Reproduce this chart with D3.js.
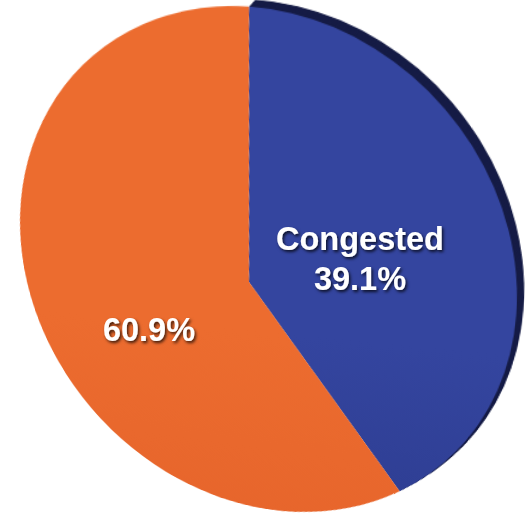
<!DOCTYPE html>
<html><head><meta charset="utf-8">
<script src="https://cdn.jsdelivr.net/npm/d3@7"></script>
<style>
html,body{margin:0;padding:0;background:#fff;overflow:hidden;}
#stage{position:relative;width:530px;height:516px;overflow:hidden;}
#pieWrap{position:absolute;left:0;top:0;width:600px;height:600px;transform-origin:0 0;}
#labels{position:absolute;left:0;top:0;}
</style></head><body>
<div id="stage"><div id="pieWrap"></div><svg id="labels" width="530" height="516"></svg></div>
<script>
// ---- data ----
const categories = ["Congested", "Not congested"];
const shares = [39.1, 60.9];
const showName = [true, false];

// ---- layout / style ----
const R0 = 250, C0 = 300;   // flat pie in local coordinates
const ell = {cx: 268.5, cy: 259, a: 268.6, b: 231.5, angle: 48.5};  // screen outline of the tilted disk
const vertex = {x: 249, y: 282};  // where the pie centre appears on screen

function mul(A, B) {
  const r = [[0,0,0],[0,0,0],[0,0,0]];
  for (let i = 0; i < 3; i++) for (let j = 0; j < 3; j++)
    for (let k = 0; k < 3; k++) r[i][j] += A[i][k] * B[k][j];
  return r;
}
function inv3(m) {
  const [a,b,c] = m[0], [d,e,f] = m[1], [g,h,i] = m[2];
  const A = e*i - f*h, B = -(d*i - f*g), C = d*h - e*g;
  const det = a*A + b*B + c*C;
  return [[A/det, -(b*i - c*h)/det, (b*f - c*e)/det],
          [B/det, (a*i - c*g)/det, -(a*f - c*d)/det],
          [C/det, -(a*h - b*g)/det, (a*e - b*d)/det]];
}
function apply(m, x, y) {
  const X = m[0][0]*x + m[0][1]*y + m[0][2], Y = m[1][0]*x + m[1][1]*y + m[1][2], W = m[2][0]*x + m[2][1]*y + m[2][2];
  return [X / W, Y / W];
}
// ellipse linear part (symmetric)
const th = ell.angle * Math.PI / 180, ct = Math.cos(th), st = Math.sin(th);
const Sl = [[ell.a*ct*ct + ell.b*st*st, (ell.a - ell.b)*ct*st],
            [(ell.a - ell.b)*ct*st, ell.a*st*st + ell.b*ct*ct]];
const S = [[Sl[0][0], Sl[0][1], ell.cx], [Sl[1][0], Sl[1][1], ell.cy], [0, 0, 1]];
const Sinv = inv3(S);
const [wx, wy] = apply(Sinv, vertex.x, vertex.y);
const w2 = wx*wx + wy*wy, g = 1 / Math.sqrt(1 - w2), wl = Math.sqrt(w2);
const ux = wx / wl, uy = wy / wl;
const N = [[1/R0, 0, -C0/R0], [0, 1/R0, -C0/R0], [0, 0, 1]];
const L = [[1 + (g-1)*ux*ux, (g-1)*ux*uy, g*wx],
           [(g-1)*ux*uy, 1 + (g-1)*uy*uy, g*wy],
           [g*wx, g*wy, g]];
const H = mul(S, mul(L, N));
const Hinv = inv3(H);
d3.select("#pieWrap").style("transform",
  `matrix3d(${H[0][0]},${H[1][0]},0,${H[2][0]},${H[0][1]},${H[1][1]},0,${H[2][1]},0,0,1,0,${H[0][2]},${H[1][2]},0,${H[2][2]})`);

// the first slice starts straight above the centre on screen
const up = apply(Hinv, vertex.x, 60);
const start = Math.atan2(up[0] - C0, -(up[1] - C0));

const svg = d3.select("#pieWrap").append("svg").attr("width", 600).attr("height", 600);
const defs = svg.append("defs");
function grad(id, stops) {
  const gr = defs.append("linearGradient").attr("id", id)
    .attr("gradientUnits", "userSpaceOnUse").attr("x1", 0).attr("y1", C0 - R0).attr("x2", 0).attr("y2", C0 + R0);
  stops.forEach(([o, c]) => gr.append("stop").attr("offset", o).attr("stop-color", c));
}
grad("gOrange", [[0, "#ec6c2f"], [0.5, "#e6642b"], [1, "#da5b26"]]);
grad("gBlue", [[0, "#34459f"], [0.5, "#2c3b8e"], [1, "#212e75"]]);
const fills = ["url(#gBlue)", "url(#gOrange)"];

const arcs = d3.pie().sort(null).value(d => d).startAngle(start).endAngle(start + 2 * Math.PI)(shares);
const arc = d3.arc().innerRadius(0).outerRadius(R0);
const g0 = svg.append("g").attr("transform", `translate(${C0},${C0})`);

// raised side of the congested slice
const steps = 12;
for (let k = steps; k >= 1; k--) {
  g0.append("path").attr("d", arc(arcs[0]))
    .attr("transform", `translate(${6 * k / steps},${-5.5 * k / steps})`)
    .attr("fill", "#161c46");
}
g0.selectAll("path.slice").data(arcs).join("path").attr("class", "slice")
  .attr("d", arc).attr("fill", (d, i) => fills[i]);

// ---- labels (flat text) ----
const lab = d3.select("#labels");
const f = lab.append("defs").append("filter").attr("id", "sh").attr("x", "-20%").attr("y", "-30%").attr("width", "140%").attr("height", "160%");
f.append("feDropShadow").attr("dx", 1.5).attr("dy", 2).attr("stdDeviation", 1.4)
  .attr("flood-color", "#000").attr("flood-opacity", 0.75);
const labelPos = [{x: 360, y: 250, dy: 39.5}, {x: 149, y: 341}];
arcs.forEach((a, i) => {
  const lines = showName[i] ? [categories[i], shares[i].toFixed(1) + "%"] : [shares[i].toFixed(1) + "%"];
  const t = lab.append("text").attr("text-anchor", "middle")
    .attr("font-family", "'Liberation Sans', Arial, Helvetica, sans-serif")
    .attr("font-weight", "bold").attr("font-size", 32.5).attr("fill", "#fff")
    .attr("filter", "url(#sh)");
  lines.forEach((s, j) => t.append("tspan").attr("x", labelPos[i].x)
    .attr("y", labelPos[i].y + j * (labelPos[i].dy || 0)).text(s));
});
</script>
</body></html>
